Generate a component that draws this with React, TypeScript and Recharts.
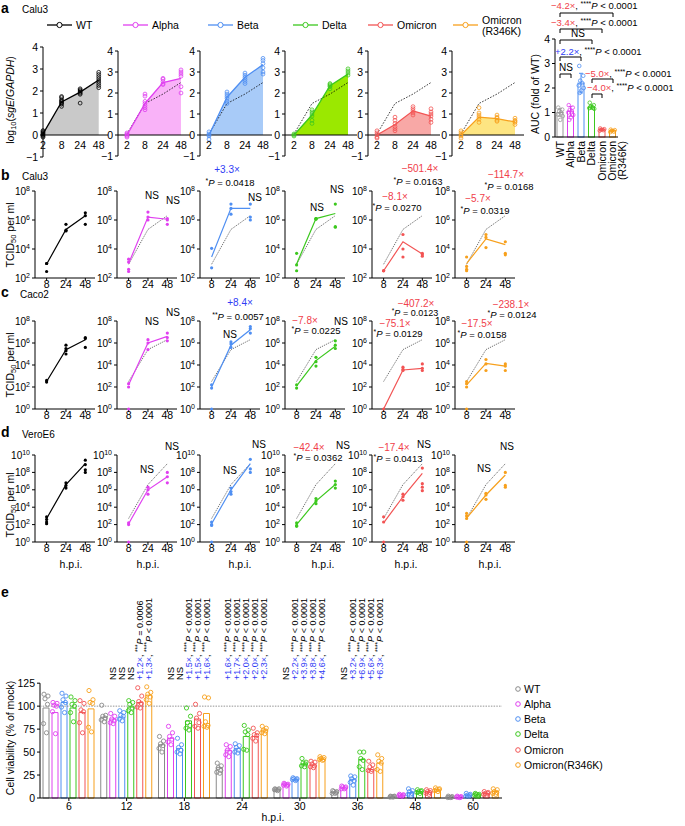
import React from 'react';
import { ComposedChart, Line, Area, Scatter, Bar, XAxis, YAxis, ReferenceLine } from 'recharts';

const FONT = '"Liberation Sans", Arial, Helvetica, sans-serif';

// ---------- data ----------
const VARIANTS = ['WT', 'Alpha', 'Beta', 'Delta', 'Omicron', 'Omicron (R346K)'];

// a: log10(sgE/GAPDH), Calu3
const SGE_HPI = ['2', '8', '24', '48'];
const SGE_MEAN = [
  [0.05, 1.5, 1.95, 2.5],
  [0, 1.5, 2.5, 2.7],
  [0, 1.8, 2.75, 3.35],
  [0, 0.95, 2.35, 2.9],
  [0, 0.5, 1.15, 0.9],
  [0, 0.85, 0.78, 0.62],
];
const SGE_REPS = [
  [[0.2, 0.15, 0.1, 0.05, 0, -0.05, -0.1], [1.75, 1.7, 1.6, 1.55, 1.5, 1.45, 1.4, 1.3], [2.1, 2.05, 2.0, 1.95, 1.9, 1.85, 1.45], [2.85, 2.75, 2.65, 2.55, 2.45, 2.35, 2.25, 2.15]],
  [[0.1, 0.05, 0, -0.05, -0.1], [1.95, 1.85, 1.6, 1.5, 1.4, 1.3, 1.2], [2.7, 2.65, 2.55, 2.45, 2.4], [3.1, 3.0, 2.9, 2.8, 2.3, 2.0]],
  [[0.15, 0.05, 0, -0.05, -0.2], [2.05, 1.95, 1.85, 1.75, 1.6, 1.5], [2.95, 2.85, 2.75, 2.65, 2.55, 2.45], [3.65, 3.55, 3.4, 3.2, 3.0, 2.9]],
  [[0.05, 0, -0.05], [1.2, 1.1, 1.0, 0.9, 0.7, 0.55], [2.45, 2.4, 2.35, 2.3, 2.2], [3.15, 3.05, 2.95, 2.85]],
  [[0.2, 0.1, 0, -0.1, -0.15], [0.85, 0.7, 0.55, 0.4, 0.3, 0.2], [1.35, 1.25, 1.15, 1.05, 0.95], [1.25, 1.1, 1.0, 0.9, 0.75, 0.6]],
  [[0.2, 0.1, 0, -0.05, -0.15], [1.3, 1.05, 0.95, 0.85, 0.75, 0.6], [0.95, 0.85, 0.8, 0.7, 0.65], [0.8, 0.7, 0.65, 0.6, 0.5]],
];

// a (right): AUC, fold of WT
const AUC_MEAN = [1.0, 1.05, 2.2, 1.22, 0.3, 0.26];
const AUC_SD = [0.15, 0.2, 0.4, 0.08, 0.04, 0.04];
const AUC_REPS = [
  [1.2, 1.12, 1.05, 1.0, 0.92, 0.85, 0.7],
  [1.3, 1.2, 1.1, 1.05, 1.0, 0.9, 0.8, 0.7],
  [2.9, 2.5, 2.3, 2.2, 2.1, 2.0, 1.9, 1.8],
  [1.4, 1.3, 1.25, 1.2, 1.18, 1.15],
  [0.35, 0.32, 0.3, 0.28, 0.26],
  [0.3, 0.28, 0.25, 0.22, 0.2],
];

// b-d: log10 TCID50 per ml
const TITER_HPI = ['8', '24', '48'];
const CALU3_MEAN = [
  [2.95, 5.35, 6.3], [3.0, 6.2, 6.05], [3.45, 6.8, 6.8], [2.97, 6.1, 6.45], [2.5, 4.5, 3.65], [3.0, 4.7, 4.3],
];
const CALU3_REPS = [
  [[3.0, 3.0, 2.45], [5.7, 5.3, 5.25], [6.5, 6.3, 5.7]],
  [[3.3, 3.1, 2.6, 2.45], [6.55, 6.2, 6.0], [6.1, 6.0, 5.7]],
  [[4.05, 2.7], [7.1, 6.8, 6.4], [7.1, 6.2, 6.0]],
  [[3.7, 2.5, 2.9], [6.1, 6.1, 6.05], [7.1, 5.55, 5.5]],
  [[2.5, 2.5, 2.5], [5.0, 4.0, 3.45], [3.7, 3.6, 3.5]],
  [[3.45, 2.8, 2.6, 2.5], [5.0, 4.8, 4.1], [4.5, 3.7, 3.6]],
];
const CACO2_MEAN = [
  [2.5, 5.4, 6.3], [2.2, 6.0, 6.6], [2.0, 5.8, 7.2], [2.1, 4.4, 5.7], [0, 3.55, 3.7], [2.2, 4.15, 3.9],
];
const CACO2_REPS = [
  [[2.6, 2.45], [5.8, 5.5, 5.3, 5.0], [6.5, 6.4, 5.6]],
  [[2.3, 2.0, 0], [6.3, 6.0, 5.4], [6.9, 6.5, 6.2]],
  [[2.2, 1.9, 0], [6.1, 5.9, 5.6], [7.5, 7.3, 6.9]],
  [[2.2, 1.9], [4.7, 4.3, 3.9], [6.2, 5.8, 5.5]],
  [[0], [3.8, 3.6, 3.5], [4.1, 3.7, 3.5]],
  [[2.5, 2.3, 2.0, 0], [4.5, 4.1, 3.5], [4.1, 3.9, 3.5]],
];
const VERO_MEAN = [
  [2.7, 6.6, 9.0], [2.1, 6.0, 7.5], [2.1, 6.0, 9.0], [2.0, 4.7, 6.6], [2.2, 5.2, 7.9], [2.75, 5.4, 7.7],
];
const VERO_REPS = [
  [[2.9, 2.6, 2.3, 2.1], [6.8, 6.5, 6.2], [9.4, 8.9, 8.3, 8.0]],
  [[2.2, 2.0, 0], [6.3, 6.0, 5.5], [8.0, 7.5, 6.8]],
  [[2.3, 2.0, 1.9, 0], [6.2, 5.8, 5.5], [9.5, 8.4, 8.0]],
  [[2.2, 1.9, 1.8], [5.0, 4.7, 4.4], [7.0, 6.6, 6.2]],
  [[2.9, 2.3, 0], [5.5, 5.2, 4.8], [8.5, 6.7, 6.3, 5.9]],
  [[3.3, 3.0, 2.7, 0], [5.6, 5.4, 4.9], [8.0, 6.5, 6.3]],
];

// e: cell viability (% of mock)
const VIAB_HPI = ['6', '12', '18', '24', '30', '36', '48', '60'];
const VIAB_MEAN = [
  [98, 88, 58, 33, 9.5, 6.5, 1.5, 1],
  [93, 86, 65, 52, 15, 11, 3, 1],
  [104, 88, 54, 54, 20, 20, 6, 3],
  [98, 99, 84, 67, 37, 42, 7, 3.5],
  [93, 104, 86, 67, 36, 31, 6.5, 5],
  [97, 112, 92, 74, 42, 38, 9, 7],
];
const VIAB_REPS = [
  [[113, 111, 108, 102, 81, 71], [101, 90, 89, 87, 85, 83], [67, 62, 59, 57, 54, 50], [38, 35, 33, 30, 28, 27], [10, 10, 9, 9, 9, 8], [8, 7, 7, 6, 5, 5], [2, 2, 1.5, 1.5, 1, 1], [2, 1.5, 1, 1, 0.5, 0.5]],
  [[104, 103, 101, 100, 94, 70], [92, 89, 86, 84, 82, 81], [78, 71, 67, 64, 61, 58], [58, 56, 52, 50, 47, 45], [16, 15, 15, 14, 14, 13], [13, 12, 12, 11, 10, 10], [4, 3.5, 3, 3, 2.5, 2], [2, 1.5, 1, 1, 1, 0.5]],
  [[114, 111, 107, 104, 99, 93], [95, 93, 90, 89, 86, 84], [65, 58, 55, 52, 50, 48], [59, 57, 55, 52, 50, 49], [22, 21, 21, 20, 20, 19], [24, 23, 21, 19, 17, 14], [10, 8, 7, 5, 4, 3], [5, 4, 3, 3, 2, 2]],
  [[110, 106, 102, 100, 93, 83], [106, 104, 102, 98, 95, 93], [98, 89, 82, 79, 76, 74], [79, 74, 72, 69, 53, 52], [43, 39, 38, 37, 35, 34], [50, 50, 43, 41, 34, 31], [9, 8, 7, 7, 6, 5], [5, 4, 4, 3, 3, 2]],
  [[106, 103, 96, 94, 82, 71], [120, 111, 105, 103, 99, 98], [102, 92, 87, 82, 78, 76], [76, 71, 69, 68, 65, 62], [40, 39, 37, 35, 34, 33], [40, 36, 34, 31, 30, 29], [9, 8, 7, 6, 5, 4], [7, 6, 5, 5, 4, 3]],
  [[117, 107, 104, 103, 77, 72], [121, 115, 113, 110, 107, 103], [110, 109, 83, 79, 78, 77], [78, 76, 74, 73, 71, 70], [45, 44, 43, 42, 42, 41], [47, 43, 40, 38, 31, 29], [11, 10, 9, 9, 8, 7], [10, 9, 7, 6, 5, 4]],
];

// ---------- style / layout ----------
const LINE_COLORS = ['#000000', '#e040f0', '#4f8ff2', '#3cc81e', '#f25454', '#f7a01c'];
const AREA_COLORS = ['#c9c9c9', '#f9b2f8', '#a8cbf8', '#9be800', '#f8a8a6', '#fde582'];
const E_COLORS = ['#8a8a8a', '#e040f0', '#4f8ff2', '#3cc81e', '#f25454', '#f7a01c'];
const BLUE = '#2f3cf5';
const RED = '#f0404a';

const SGE_AXIS_X = [43, 118, 200, 285, 368, 452];
const TITER_AXIS_X = [35, 117, 200, 285, 372, 455];
const TITER_ROWS = [
  { top: 191, bottom: 278, domain: [2, 8], ticks: [2, 4, 6, 8], mean: CALU3_MEAN, reps: CALU3_REPS },
  { top: 321, bottom: 409, domain: [0, 8], ticks: [0, 2, 4, 6, 8], mean: CACO2_MEAN, reps: CACO2_REPS },
  { top: 455, bottom: 542, domain: [0, 10], ticks: [0, 2, 4, 6, 8, 10], mean: VERO_MEAN, reps: VERO_REPS },
];
const E_BAND = 462 / 8;
const E_JIT = [-2, 2, -1, 1.5, -2.5, 0.5];
const AUC_JIT = [-2, 2, -1, 1, -2.5, 2.5, 0, -1.5];

const tickStyle = { fontSize: 10.5, fill: '#000', fontFamily: FONT };

const PowTick = (props: any) => {
  const { x, y, payload } = props;
  return (
    <text x={x} y={y + 3.5} textAnchor="end" fontSize={10} fill="#000" fontFamily={FONT}>
      10<tspan dy={-4} fontSize={7}>{payload.value}</tspan>
    </text>
  );
};

function SgePanel({ i }: { i: number }) {
  const first = i === 0;
  const top = first ? 47 : 51;
  const bottom = first ? 157 : 156;
  const plotH = bottom - top;
  const yW = 20;
  const mTop = 6;
  const mBottom = 6;
  const plotW = first ? 65 : 72;
  const dom = first ? [0, 3.5] : [-0.5, 3.5];
  const y0 = mTop + plotH * 0.8;
  const mean = SGE_MEAN[i].map((y, k) => ({ x: k, y }));
  const wt = SGE_MEAN[0].map((y, k) => ({ x: k, y }));
  const pts = SGE_REPS[i].flatMap((reps, k) => reps.map((y) => ({ x: k, y })));
  const color = LINE_COLORS[i];
  return (
    <div style={{ position: 'absolute', left: SGE_AXIS_X[i] - yW, top: top - mTop }}>
      <ComposedChart width={yW + plotW + 3} height={mTop + plotH + 2 + mBottom} margin={{ top: mTop, right: 3, bottom: mBottom, left: 0 }}>
        <XAxis
          dataKey="x"
          type="number"
          domain={dom}
          ticks={[0, 1, 2, 3]}
          interval={0}
          axisLine={false}
          tickLine={false}
          height={2}
          tick={(p: any) => (
            <text x={p.x} y={y0 + 14} textAnchor="middle" {...tickStyle}>
              {SGE_HPI[p.payload.value]}
            </text>
          )}
        />
        <YAxis
          type="number"
          domain={[-1, 4]}
          ticks={[-1, 0, 1, 2, 3, 4]}
          interval={0}
          width={yW}
          tickSize={3}
          axisLine={{ stroke: '#000' }}
          tickLine={{ stroke: '#000' }}
          tick={tickStyle}
          tickFormatter={(v: number) => (v < 0 ? `−${-v}` : `${v}`)}
        />
        <Area data={mean} dataKey="y" type="linear" baseValue={0} fill={AREA_COLORS[i]} fillOpacity={1} stroke="none" isAnimationActive={false} />
        <ReferenceLine y={0} stroke="#000" />
        {!first && (
          <Line data={wt} dataKey="y" type="linear" stroke="#000" strokeWidth={0.8} strokeDasharray="1.5 1.5" dot={false} isAnimationActive={false} />
        )}
        <Line data={mean} dataKey="y" type="linear" stroke={color} strokeWidth={1.3} dot={false} isAnimationActive={false} />
        <Scatter
          data={pts}
          dataKey="y"
          isAnimationActive={false}
          shape={(p: any) => <circle cx={p.cx} cy={p.cy} r={1.9} fill="none" stroke={color} strokeWidth={0.8} />}
        />
      </ComposedChart>
    </div>
  );
}

function TiterPanel({ row, i }: { row: number; i: number }) {
  const R = TITER_ROWS[row];
  const yW = 28;
  const mTop = 6;
  const plotH = R.bottom - R.top;
  const plotW = 60;
  const mean = R.mean[i].map((y, k) => ({ x: k, y }));
  const wt = R.mean[0].map((y, k) => ({ x: k, y }));
  const pts = R.reps[i].flatMap((reps, k) => reps.map((y) => ({ x: k, y })));
  const color = LINE_COLORS[i];
  return (
    <div style={{ position: 'absolute', left: TITER_AXIS_X[i] - yW, top: R.top - mTop }}>
      <ComposedChart width={yW + plotW + 3} height={mTop + plotH + 16} margin={{ top: mTop, right: 3, bottom: 0, left: 0 }}>
        <XAxis
          dataKey="x"
          type="number"
          domain={[-0.6, 2.5]}
          ticks={[0, 1, 2]}
          interval={0}
          height={16}
          tickSize={3}
          tickMargin={0}
          axisLine={{ stroke: '#000' }}
          tickLine={{ stroke: '#000' }}
          tick={tickStyle}
          tickFormatter={(k: number) => TITER_HPI[k]}
        />
        <YAxis
          type="number"
          domain={R.domain}
          ticks={R.ticks}
          interval={0}
          width={yW}
          tickSize={3}
          axisLine={{ stroke: '#000' }}
          tickLine={{ stroke: '#000' }}
          tick={<PowTick />}
        />
        {i > 0 && (
          <Line data={wt} dataKey="y" type="linear" stroke="#333" strokeWidth={0.7} strokeDasharray="1.2 1" dot={false} isAnimationActive={false} />
        )}
        <Line data={mean} dataKey="y" type="linear" stroke={color} strokeWidth={1.2} dot={false} isAnimationActive={false} />
        <Scatter
          data={pts}
          dataKey="y"
          isAnimationActive={false}
          shape={(p: any) => <circle cx={p.cx} cy={p.cy} r={1.6} fill={color} stroke="none" />}
        />
      </ComposedChart>
    </div>
  );
}

function AucPanel() {
  const rows = VARIANTS.map((name, v) => ({ name, v: AUC_MEAN[v], sd: AUC_SD[v] }));
  const pts: any[] = [];
  AUC_REPS.forEach((reps, v) => reps.forEach((y, r) => pts.push({ px: v + AUC_JIT[r % AUC_JIT.length] / 10.5, y, c: v })));
  return (
    <div style={{ position: 'absolute', left: 541, top: 31 }}>
      <ComposedChart width={90} height={154} data={rows} margin={{ top: 8, right: 13, bottom: 0, left: 0 }}>
        <XAxis
          xAxisId="c"
          dataKey="name"
          type="category"
          height={48}
          tickLine={false}
          axisLine={{ stroke: '#000' }}
          interval={0}
          tick={(p: any) => {
            const label = p.payload.value as string;
            const lines = label === 'Omicron (R346K)' ? ['Omicron', '(R346K)'] : [label];
            return (
              <g transform={`translate(${p.x},110) rotate(-90)`}>
                {lines.map((l, k) => (
                  <text key={k} x={0} y={3.5 + k * 10} textAnchor="end" {...tickStyle}>
                    {l}
                  </text>
                ))}
              </g>
            );
          }}
        />
        <XAxis xAxisId="n" dataKey="px" type="number" domain={[-0.5, 5.5]} hide />
        <YAxis
          type="number"
          domain={[0, 4]}
          ticks={[0, 1, 2, 3, 4]}
          interval={0}
          width={14}
          tickSize={3}
          axisLine={{ stroke: '#000' }}
          tickLine={{ stroke: '#000' }}
          tick={tickStyle}
        />
        <Bar
          xAxisId="c"
          dataKey="v"
          barSize={6}
          isAnimationActive={false}
          shape={(p: any) => {
            const c = p.index === 0 ? '#999' : LINE_COLORS[p.index];
            const ppu = p.height / p.payload.v;
            const e = p.payload.sd * ppu;
            const cx = p.x + p.width / 2;
            return (
              <g>
                <rect x={p.x} y={p.y} width={p.width} height={p.height} fill="#fff" stroke={c} strokeWidth={1} />
                <line x1={cx} x2={cx} y1={p.y - e} y2={p.y + e} stroke={c} strokeWidth={1} />
                <line x1={cx - 2} x2={cx + 2} y1={p.y - e} y2={p.y - e} stroke={c} strokeWidth={1} />
                <line x1={cx - 2} x2={cx + 2} y1={p.y + e} y2={p.y + e} stroke={c} strokeWidth={1} />
              </g>
            );
          }}
        />
        <Scatter
          xAxisId="n"
          data={pts}
          dataKey="y"
          isAnimationActive={false}
          shape={(p: any) => (
            <circle cx={p.cx} cy={p.cy} r={1.8} fill="none" stroke={p.payload.c === 0 ? '#999' : LINE_COLORS[p.payload.c]} strokeWidth={0.8} />
          )}
        />
      </ComposedChart>
    </div>
  );
}

function ViabilityPanel() {
  const rows = VIAB_HPI.map((name, t) => {
    const r: any = { name };
    VIAB_MEAN.forEach((m, v) => (r['v' + v] = m[t]));
    return r;
  });
  const pts: any[] = [];
  VIAB_REPS.forEach((byT, v) =>
    byT.forEach((reps, t) =>
      reps.forEach((y, r) => pts.push({ px: t + (-22.875 + 9 * v + E_JIT[r]) / E_BAND, y, c: v })),
    ),
  );
  return (
    <div style={{ position: 'absolute', left: 0, top: 670 }}>
      <ComposedChart width={505} height={148} data={rows} margin={{ top: 4, right: 3, bottom: 0, left: 0 }} barGap={3}>
        <XAxis
          xAxisId="c"
          dataKey="name"
          type="category"
          height={20}
          tickSize={3}
          interval={0}
          axisLine={{ stroke: '#000' }}
          tickLine={{ stroke: '#000' }}
          tick={tickStyle}
        />
        <XAxis xAxisId="n" dataKey="px" type="number" domain={[-0.5, 7.5]} hide />
        <YAxis
          type="number"
          domain={[0, 135]}
          ticks={[0, 25, 50, 75, 100, 125]}
          interval={0}
          width={40}
          tickSize={3}
          axisLine={false}
          tickLine={{ stroke: '#000' }}
          tick={tickStyle}
        />
        <ReferenceLine xAxisId="n" segment={[{ x: -0.5, y: 0 }, { x: -0.5, y: 125 }]} stroke="#000" strokeWidth={1} />
        <ReferenceLine xAxisId="c" y={100} stroke="#777" strokeWidth={0.8} strokeDasharray="1.5 1.2" />
        {VIAB_MEAN.map((_, v) => (
          <Bar key={v} xAxisId="c" dataKey={'v' + v} barSize={6} fill="#fff" stroke={E_COLORS[v]} strokeWidth={1} isAnimationActive={false} />
        ))}
        <Scatter
          xAxisId="n"
          data={pts}
          dataKey="y"
          isAnimationActive={false}
          shape={(p: any) => <circle cx={p.cx} cy={p.cy} r={2.1} fill="none" stroke={E_COLORS[p.payload.c]} strokeWidth={0.9} />}
        />
      </ComposedChart>
    </div>
  );
}

// ---------- annotation helpers ----------
type StatProps = { x: number; y: number; fold?: string; foldColor?: string; stars: string; op: string; val: string; anchor?: string; size?: number; transform?: string };
const Stat = ({ x, y, fold, foldColor, stars, op, val, anchor = 'middle', size = 9.5, transform }: StatProps) => (
  <text x={x} y={y} textAnchor={anchor as any} fontSize={size} fontFamily={FONT} fill="#000" transform={transform}>
    {fold && <tspan fill={foldColor}>{fold}</tspan>}
    {fold && <tspan>, </tspan>}
    <tspan fontSize={size * 0.72} dy={-size * 0.3}>{stars}</tspan>
    <tspan fontStyle="italic" dy={size * 0.3}>P</tspan>
    <tspan>{` ${op} ${val}`}</tspan>
  </text>
);
const T = ({ x, y, children, color = '#000', size = 10, anchor = 'middle' }: any) => (
  <text x={x} y={y} fill={color} fontSize={size} fontFamily={FONT} textAnchor={anchor}>
    {children}
  </text>
);
const Bracket = ({ x1, x2, y }: { x1: number; x2: number; y: number }) => (
  <path d={`M${x1},${y + 4}V${y}H${x2}V${y + 4}`} fill="none" stroke="#000" strokeWidth={1} />
);

// e: rotated annotations per (time index, variant index)
const E_ANN: [number, number, string, string?, string?][] = [
  [1, 1, 'NS'], [1, 2, 'NS'], [1, 3, 'NS'], [1, 4, '+1.2×', '***', '= 0.0006'], [1, 5, '+1.3×', '****', '< 0.0001'],
  [2, 1, 'NS'], [2, 2, 'NS'], [2, 3, '+1.5×', '****', '< 0.0001'], [2, 4, '+1.5×', '****', '< 0.0001'], [2, 5, '+1.6×', '****', '< 0.0001'],
  [3, 1, '+1.6×', '****', '< 0.0001'], [3, 2, '+1.7×', '****', '< 0.0001'], [3, 3, '+2.0×', '****', '< 0.0001'], [3, 4, '+2.0×', '****', '< 0.0001'], [3, 5, '+2.3×', '****', '< 0.0001'],
  [4, 1, 'NS'], [4, 2, '+2.2×', '****', '< 0.0001'], [4, 3, '+3.9×', '****', '< 0.0001'], [4, 4, '+3.8×', '****', '< 0.0001'], [4, 5, '+4.6×', '****', '< 0.0001'],
  [5, 1, 'NS'], [5, 2, '+3.2×', '****', '< 0.0001'], [5, 3, '+6.9×', '****', '< 0.0001'], [5, 4, '+5.6×', '****', '< 0.0001'], [5, 5, '+6.3×', '****', '< 0.0001'],
];

const LEG_A_X = [47, 123, 208, 293, 368, 453];
const HPI_D_X = [71, 148, 240, 323, 406, 490];
const LEG_E_Y = [689, 704, 719, 734, 750, 765];

function Overlay() {
  return (
    <svg width={685} height={826} style={{ position: 'absolute', left: 0, top: 0, pointerEvents: 'none' }}>
      {/* panel letters */}
      <T x={1} y={13} size={14} anchor="start"><tspan fontWeight="bold">a</tspan></T>
      <T x={22} y={13} size={10} anchor="start">Calu3</T>
      <T x={1} y={180} size={14} anchor="start"><tspan fontWeight="bold">b</tspan></T>
      <T x={22} y={180} size={10} anchor="start">Calu3</T>
      <T x={1} y={297} size={14} anchor="start"><tspan fontWeight="bold">c</tspan></T>
      <T x={20} y={298} size={10} anchor="start">Caco2</T>
      <T x={1} y={437} size={14} anchor="start"><tspan fontWeight="bold">d</tspan></T>
      <T x={22} y={438} size={10} anchor="start">VeroE6</T>
      <T x={1} y={597} size={14} anchor="start"><tspan fontWeight="bold">e</tspan></T>

      {/* legend a */}
      {LEG_A_X.map((x, v) => (
        <g key={v}>
          <line x1={x} x2={x + 25} y1={25} y2={25} stroke={LINE_COLORS[v]} strokeWidth={1.3} />
          <circle cx={x + 12.5} cy={25} r={2.6} fill="#fff" stroke={LINE_COLORS[v]} strokeWidth={1} />
          {v < 5 ? (
            <T x={x + 29} y={29} size={10.5} anchor="start">{VARIANTS[v]}</T>
          ) : (
            <g>
              <T x={x + 29} y={24} size={10.5} anchor="start">Omicron</T>
              <T x={x + 29} y={35} size={10.5} anchor="start">(R346K)</T>
            </g>
          )}
        </g>
      ))}

      {/* axis titles */}
      <text transform="translate(14,100) rotate(-90)" textAnchor="middle" fontSize={10.5} fontFamily={FONT}>
        log<tspan dy={2} fontSize={7.5}>10</tspan>
        <tspan dy={-2}>(</tspan>
        <tspan fontStyle="italic">sgE</tspan>/<tspan fontStyle="italic">GAPDH</tspan>)
      </text>
      {[235, 365, 505].map((cy) => (
        <text key={cy} transform={`translate(14,${cy}) rotate(-90)`} textAnchor="middle" fontSize={10.5} fontFamily={FONT}>
          TCID<tspan dy={2} fontSize={7.5}>50</tspan>
          <tspan dy={-2}> per ml</tspan>
        </text>
      ))}
      <text transform="translate(539,94) rotate(-90)" textAnchor="middle" fontSize={10.5} fontFamily={FONT}>
        AUC (fold of WT)
      </text>
      <text transform="translate(14,738) rotate(-90)" textAnchor="middle" fontSize={10.5} fontFamily={FONT}>
        Cell viability (% of mock)
      </text>
      {HPI_D_X.map((x) => (
        <T key={x} x={x} y={568} size={10.5}>h.p.i.</T>
      ))}
      <T x={273} y={821} size={10.5}>h.p.i.</T>

      {/* AUC statistics */}
      <Stat x={551} y={9} fold="−4.2×" foldColor={RED} stars="****" op="<" val="0.0001" anchor="start" />
      <Bracket x1={560} x2={613} y={13} />
      <Stat x={551} y={26} fold="−3.4×" foldColor={RED} stars="****" op="<" val="0.0001" anchor="start" />
      <Bracket x1={560} x2={602} y={29} />
      <T x={578} y={37}>NS</T>
      <Bracket x1={560} x2={592} y={40} />
      <Stat x={555} y={55} fold="+2.2×" foldColor={BLUE} stars="****" op="<" val="0.0001" anchor="start" />
      <Bracket x1={560} x2={581} y={57} />
      <T x={566} y={71}>NS</T>
      <Bracket x1={560} x2={571} y={74} />
      <Stat x={585} y={77} fold="−5.0×" foldColor={RED} stars="****" op="<" val="0.0001" anchor="start" />
      <Bracket x1={592} x2={613} y={79} />
      <Stat x={587} y={91} fold="−4.0×" foldColor={RED} stars="****" op="<" val="0.0001" anchor="start" />
      <Bracket x1={592} x2={602} y={94} />

      {/* b */}
      <T x={227} y={173} color={BLUE}>+3.3×</T>
      <Stat x={230} y={186} stars="*" op="=" val="0.0418" />
      <T x={152} y={199}>NS</T>
      <T x={173} y={204}>NS</T>
      <T x={255} y={201}>NS</T>
      <T x={317} y={211}>NS</T>
      <T x={337} y={193}>NS</T>
      <T x={420} y={172} color={RED}>−501.4×</T>
      <Stat x={418} y={185} stars="*" op="=" val="0.0163" />
      <T x={395} y={200} color={RED}>−8.1×</T>
      <Stat x={397} y={211} stars="*" op="=" val="0.0270" />
      <T x={506} y={178} color={RED}>−114.7×</T>
      <Stat x={509} y={190} stars="*" op="=" val="0.0168" />
      <T x={478} y={202} color={RED}>−5.7×</T>
      <Stat x={485} y={214} stars="*" op="=" val="0.0319" />

      {/* c */}
      <T x={240} y={306} color={BLUE}>+8.4×</T>
      <Stat x={238} y={320} stars="**" op="=" val="0.0057" />
      <T x={173} y={316}>NS</T>
      <T x={152} y={325}>NS</T>
      <T x={230} y={338}>NS</T>
      <T x={305} y={324} color={RED}>−7.8×</T>
      <Stat x={316} y={334} stars="*" op="=" val="0.0225" />
      <T x={341} y={325}>NS</T>
      <T x={416} y={307} color={RED}>−407.2×</T>
      <Stat x={415} y={316} stars="*" op="=" val="0.0123" size={9} />
      <T x={395} y={327} color={RED}>−75.1×</T>
      <Stat x={398} y={337} stars="*" op="=" val="0.0129" />
      <T x={511} y={308} color={RED}>−238.1×</T>
      <Stat x={512} y={318} stars="*" op="=" val="0.0124" />
      <T x={477} y={327} color={RED}>−17.5×</T>
      <Stat x={482} y={338} stars="*" op="=" val="0.0158" />

      {/* d */}
      <T x={147} y={473}>NS</T>
      <T x={172} y={450}>NS</T>
      <T x={230} y={474}>NS</T>
      <T x={259} y={448}>NS</T>
      <T x={309} y={451} color={RED}>−42.4×</T>
      <Stat x={318} y={461} stars="*" op="=" val="0.0362" />
      <T x={343} y={449}>NS</T>
      <T x={394} y={451} color={RED}>−17.4×</T>
      <Stat x={398} y={462} stars="*" op="=" val="0.0413" />
      <T x={424} y={448}>NS</T>
      <T x={484} y={472}>NS</T>
      <T x={507} y={450}>NS</T>

      {/* e rotated statistics */}
      {E_ANN.map(([t, v, fold, stars, val], k) => {
        const cx = 40 + t * E_BAND + 6 + 9 * v;
        const tr = `translate(${cx + 3.2},680) rotate(-90)`;
        if (fold === 'NS')
          return (
            <text key={k} transform={tr} fontSize={9.5} fontFamily={FONT}>
              NS
            </text>
          );
        return (
          <Stat key={k} x={0} y={0} transform={tr} fold={fold} foldColor={BLUE} stars={stars!} op={val!.slice(0, 1)} val={val!.slice(2)} anchor="start" size={9} />
        );
      })}

      {/* legend e */}
      {LEG_E_Y.map((y, v) => (
        <g key={v}>
          <circle cx={518} cy={y} r={2.3} fill="none" stroke={E_COLORS[v]} strokeWidth={1} />
          <T x={524} y={y + 3.6} size={10.5} anchor="start">{v === 5 ? 'Omicron(R346K)' : VARIANTS[v]}</T>
        </g>
      ))}
    </svg>
  );
}

export default function App() {
  return (
    <div style={{ position: 'absolute', left: 0, top: 0, width: 685, height: 826, background: '#fff', fontFamily: FONT, overflow: 'hidden' }}>
      {SGE_MEAN.map((_, i) => (
        <SgePanel key={'a' + i} i={i} />
      ))}
      <AucPanel />
      {TITER_ROWS.map((_, row) => TITER_AXIS_X.map((__, i) => <TiterPanel key={`t${row}-${i}`} row={row} i={i} />))}
      <ViabilityPanel />
      <Overlay />
    </div>
  );
}
